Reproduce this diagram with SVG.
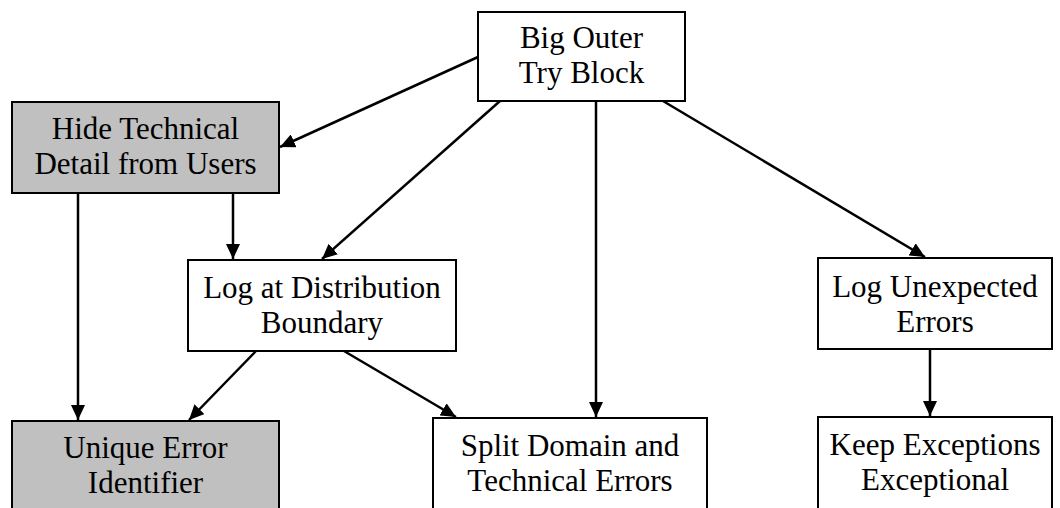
<svg xmlns="http://www.w3.org/2000/svg" width="1060" height="508" viewBox="0 0 1060 508">
<defs>
<marker id="ah" markerUnits="userSpaceOnUse" markerWidth="16" markerHeight="14" refX="15" refY="7" orient="auto">
<path d="M0,0 L15,7 L0,14 Z" fill="#000"/>
</marker>
<style>
.box{fill:#fff;stroke:#000;stroke-width:2}
.gray{fill:#c0c0c0}
.lbl{font-family:"Liberation Serif","Times New Roman",serif;font-size:31px;fill:#000;text-anchor:middle}
.edge{stroke:#000;stroke-width:2.5;fill:none;marker-end:url(#ah)}
</style>
</defs>
<rect width="1060" height="508" fill="#fff"/>
<g id="connectors">
<line class="edge" x1="478" y1="57" x2="280" y2="147"/>
<line class="edge" x1="500" y1="101" x2="322" y2="259"/>
<line class="edge" x1="233" y1="193" x2="233" y2="259"/>
<line class="edge" x1="78" y1="193" x2="78" y2="420"/>
<line class="edge" x1="596" y1="101" x2="596" y2="417"/>
<line class="edge" x1="663" y1="101" x2="925" y2="257"/>
<line class="edge" x1="256" y1="351" x2="189" y2="420"/>
<line class="edge" x1="344" y1="351" x2="456" y2="417"/>
<line class="edge" x1="930" y1="349" x2="930" y2="416"/>
</g>
<g id="big-outer">
<rect class="box" x="478" y="12" width="207" height="89"/>
<text class="lbl" x="581.5" y="48">Big Outer</text>
<text class="lbl" x="581.5" y="83">Try Block</text>
</g>
<g id="hide-technical">
<rect class="box gray" x="12" y="102" width="267" height="91"/>
<text class="lbl" x="145.5" y="139">Hide Technical</text>
<text class="lbl" x="145.5" y="174">Detail from Users</text>
</g>
<g id="log-distribution">
<rect class="box" x="188" y="260" width="268" height="91"/>
<text class="lbl" x="322" y="298">Log at Distribution</text>
<text class="lbl" x="322" y="333">Boundary</text>
</g>
<g id="log-unexpected">
<rect class="box" x="818" y="258" width="234" height="91"/>
<text class="lbl" x="935" y="297">Log Unexpected</text>
<text class="lbl" x="935" y="332">Errors</text>
</g>
<g id="unique-error">
<rect class="box gray" x="12" y="421" width="267" height="100"/>
<text class="lbl" x="145.5" y="458">Unique Error</text>
<text class="lbl" x="145.5" y="493">Identifier</text>
</g>
<g id="split-domain">
<rect class="box" x="433" y="418" width="274" height="100"/>
<text class="lbl" x="570" y="456">Split Domain and</text>
<text class="lbl" x="570" y="491">Technical Errors</text>
</g>
<g id="keep-exceptions">
<rect class="box" x="818" y="417" width="234" height="100"/>
<text class="lbl" x="935" y="455">Keep Exceptions</text>
<text class="lbl" x="935" y="490">Exceptional</text>
</g>
</svg>
